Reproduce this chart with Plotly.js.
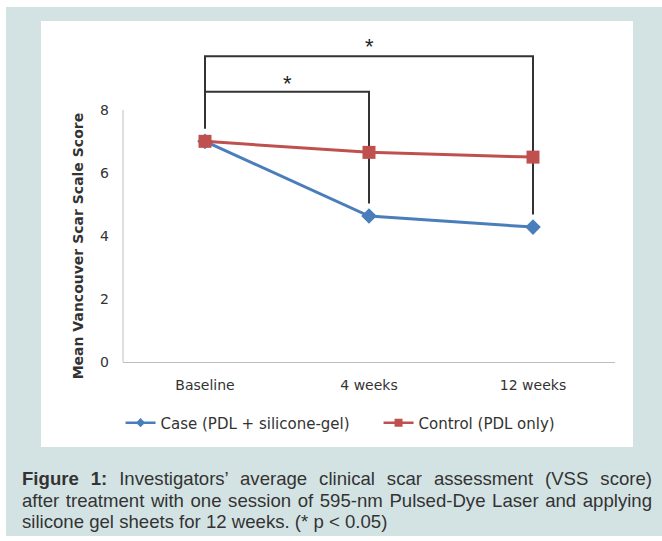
<!DOCTYPE html>
<html>
<head>
<meta charset="utf-8">
<script src="https://cdn.plot.ly/plotly-3.0.1.min.js"></script>
<style>
  html, body { margin: 0; padding: 0; background: #ffffff; }
  #page { position: relative; width: 662px; height: 541px; overflow: hidden; background: #ffffff; }
  #bg { position: absolute; left: 6px; top: 7px; width: 656px; height: 529px; background: #d3e3e3; }
  #panel { position: absolute; left: 41px; top: 21px; width: 592px; height: 426px; background: #ffffff; }
  #chart { position: absolute; left: 0; top: 0; width: 662px; height: 541px; }
  #caption { position: absolute; left: 22px; top: 468px; width: 630px;
             font-family: "Liberation Sans", Arial, sans-serif; font-size: 18.6px;
             line-height: 21.5px; color: #333333; }
  #caption .j { text-align: justify; text-align-last: justify; }
  #caption .l { text-align: left; }
</style>
</head>
<body>
<div id="page">
  <div id="bg"></div>
  <div id="panel"></div>
  <div id="chart"></div>
  <div id="caption">
    <div class="j"><b>Figure 1:</b> Investigators’ average clinical scar assessment (VSS score)</div>
    <div class="j">after treatment with one session of 595-nm Pulsed-Dye Laser and applying</div>
    <div class="l">silicone gel sheets for 12 weeks. (* p &lt; 0.05)</div>
  </div>
</div>
<script>
// ---- data ----
const categories = ["Baseline", "4 weeks", "12 weeks"];
const caseValues = [7.0, 4.63, 4.28];
const controlValues = [7.0, 6.65, 6.5];
const caseName = "Case (PDL + silicone-gel)";
const controlName = "Control (PDL only)";
const yTickVals = [0, 2, 4, 6, 8];
const yTitle = "Mean Vancouver Scar Scale Score";
const sigMark = "*";

const chartFont = "'DejaVu Sans', Verdana, sans-serif";
const textColor = "#333333";
const bracketColor = "#333333";
const caseColor = "#4a7ebb";
const controlColor = "#c0504d";

const traces = [
  {
    x: categories, y: caseValues, name: caseName, type: "scatter", mode: "lines+markers",
    showlegend: false,
    line: {color: caseColor, width: 3},
    marker: {symbol: "diamond", size: 12, color: caseColor}
  },
  {
    x: categories, y: controlValues, name: controlName, type: "scatter", mode: "lines+markers",
    showlegend: false,
    line: {color: controlColor, width: 3},
    marker: {symbol: "square", size: 13, color: controlColor}
  },
  // legend entries (smaller legend symbols, as in the original)
  {
    x: [null], y: [null], name: caseName, type: "scatter", mode: "lines+markers",
    line: {color: caseColor, width: 2.5},
    marker: {symbol: "diamond", size: 7, color: caseColor}
  },
  {
    x: [null], y: [null], name: controlName, type: "scatter", mode: "lines+markers",
    line: {color: controlColor, width: 2.5},
    marker: {symbol: "square", size: 8, color: controlColor}
  }
];

// significance brackets (derived from the case series)
const gap = 0.4;
const outerTop = 9.7, innerTop = 8.57;
const b0 = caseValues[0] + gap, b1 = caseValues[1] + gap, b2 = caseValues[2] + gap;
const shapes = [
  {type: "path", xref: "x", yref: "y", layer: "below",
   path: `M 0 ${b0} L 0 ${outerTop} L 2 ${outerTop} L 2 ${b2}`,
   line: {color: bracketColor, width: 2}},
  {type: "path", xref: "x", yref: "y", layer: "below",
   path: `M 0 ${innerTop} L 1 ${innerTop} L 1 ${b1}`,
   line: {color: bracketColor, width: 2}},
  // y axis line only from 0 to 8
  {type: "line", xref: "paper", yref: "y", x0: 0, x1: 0, y0: 0, y1: 8,
   line: {color: "#bfbfbf", width: 1}}
];

const annotations = [
  {x: 1, y: 10.02, xref: "x", yref: "y", text: sigMark, showarrow: false,
   xanchor: "center", yanchor: "middle", font: {family: "'Liberation Sans', Arial", size: 22, color: "#222"}},
  {x: 0.5, y: 8.84, xref: "x", yref: "y", text: sigMark, showarrow: false,
   xanchor: "center", yanchor: "middle", font: {family: "'Liberation Sans', Arial", size: 22, color: "#222"}},
  {x: -0.0915, y: 3.7, xref: "paper", yref: "y", text: "<b>" + yTitle + "</b>", showarrow: false,
   textangle: -90, xanchor: "center", yanchor: "middle",
   font: {family: chartFont, size: 14, color: textColor}}
];

const layout = {
  width: 662, height: 541,
  margin: {l: 123, r: 47, t: 31, b: 179},
  paper_bgcolor: "rgba(0,0,0,0)", plot_bgcolor: "rgba(0,0,0,0)",
  showlegend: true,
  font: {family: chartFont, size: 14, color: textColor},
  xaxis: {
    type: "category", range: [-0.5, 2.5], showgrid: false, zeroline: false,
    showline: true, linecolor: "#bfbfbf", linewidth: 1,
    ticks: "", ticklabelstandoff: 10, tickfont: {size: 14, color: textColor},
    fixedrange: true
  },
  yaxis: {
    range: [0, 10.5], tickvals: yTickVals, showgrid: false, zeroline: false,
    showline: false, ticks: "", ticklabelstandoff: 13,
    tickfont: {size: 14, color: textColor}, fixedrange: true
  },
  legend: {
    orientation: "h", x: -0.005, xanchor: "left", y: -0.184, yanchor: "middle",
    font: {size: 15, color: textColor}, bgcolor: "rgba(0,0,0,0)",
    itemwidth: 30, entrywidth: 213, entrywidthmode: "pixels"
  },
  shapes: shapes,
  annotations: annotations
};

Plotly.newPlot("chart", traces, layout, {displayModeBar: false, staticPlot: true});
</script>
</body>
</html>
